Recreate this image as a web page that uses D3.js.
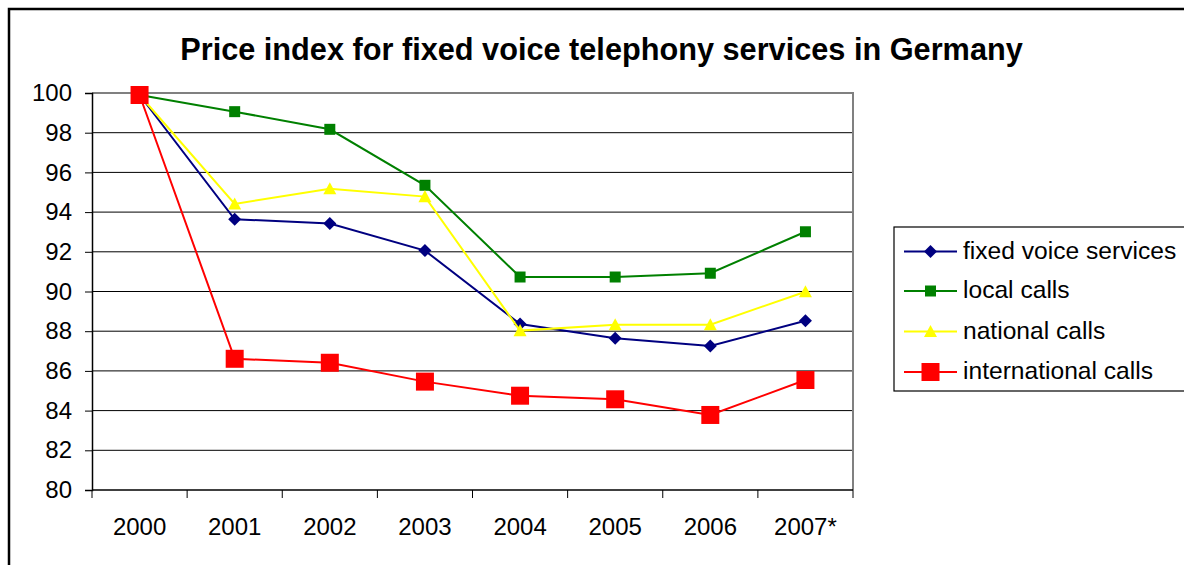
<!DOCTYPE html>
<html>
<head>
<meta charset="utf-8">
<script src="https://cdn.jsdelivr.net/npm/d3@7"></script>
<style>
  html, body { margin: 0; padding: 0; background: #fff; }
  svg { display: block; font-family: "Liberation Sans", Arial, sans-serif; }
</style>
</head>
<body>
<svg id="chart" width="1184" height="565"></svg>
<script>
const years = ["2000", "2001", "2002", "2003", "2004", "2005", "2006", "2007*"];
const fixedVoice = [99.9, 93.64, 93.43, 92.06, 88.36, 87.64, 87.25, 88.53];
const localCalls = [99.9, 99.06, 98.17, 95.35, 90.73, 90.73, 90.92, 93.01];
const nationalCalls = [99.9, 94.41, 95.18, 94.78, 88.03, 88.33, 88.33, 89.99];
const internationalCalls = [99.9, 86.61, 86.41, 85.46, 84.75, 84.57, 83.78, 85.54];
const yTicks = [80, 82, 84, 86, 88, 90, 92, 94, 96, 98, 100];
const seriesNames = ["fixed voice services", "local calls", "national calls", "international calls"];
const chartTitle = "Price index for fixed voice telephony services in Germany";

const series = [
  { name: seriesNames[0], values: fixedVoice, color: "#000080", marker: "diamond", size: 13 },
  { name: seriesNames[1], values: localCalls, color: "#008000", marker: "square", size: 11 },
  { name: seriesNames[2], values: nationalCalls, color: "#FFFF00", marker: "triangle", size: 13 },
  { name: seriesNames[3], values: internationalCalls, color: "#FF0000", marker: "square", size: 18 }
];

(function () {
const svg = d3.select("#chart");
const pLeft = 92, pRight = 853, pTop = 93, pBottom = 490;

// outer frame
svg.append("rect").attr("x", 9).attr("y", 9).attr("width", 1300).attr("height", 700)
  .attr("fill", "#fff").attr("stroke", "#000").attr("stroke-width", 2.5);

const x = d3.scaleBand().domain(years).range([pLeft, pRight]).padding(0);
const y = d3.scaleLinear().domain([80, 100]).range([pBottom, pTop]);

// title
svg.append("text").attr("x", 601.5).attr("y", 60).attr("text-anchor", "middle")
  .attr("font-weight", "bold").attr("font-size", 30.7).attr("fill", "#000").text(chartTitle);

// gridlines
svg.append("g").selectAll("line").data(yTicks.filter(d => d !== 80 && d !== 100)).join("line")
  .attr("x1", pLeft).attr("x2", pRight).attr("y1", d => y(d)).attr("y2", d => y(d))
  .attr("stroke", "#000").attr("stroke-width", 1);

// plot border top/right (gray)
svg.append("path").attr("d", `M${pLeft},${y(100)}H${pRight}V${pBottom}`)
  .attr("fill", "none").attr("stroke", "#808080").attr("stroke-width", 2);

// y axis
const yAxis = d3.axisLeft(y).tickValues(yTicks).tickSize(7).tickPadding(13).tickFormat(d3.format("d"));
const gy = svg.append("g").attr("transform", `translate(${pLeft},0)`).call(yAxis);
gy.select(".domain").attr("stroke", "#000").attr("stroke-width", 1.5);
gy.selectAll(".tick line").attr("stroke", "#000");
gy.selectAll(".tick text").attr("font-size", 24).attr("fill", "#000").attr("font-family", "Liberation Sans, Arial, sans-serif");

// x axis labels
const xAxis = d3.axisBottom(x).tickSize(0).tickPadding(28);
const gx = svg.append("g").attr("transform", `translate(0,${pBottom})`).call(xAxis);
gx.select(".domain").remove();
gx.selectAll(".tick text").attr("font-size", 24).attr("fill", "#000").attr("font-family", "Liberation Sans, Arial, sans-serif");
// x axis line and boundary ticks
svg.append("line").attr("x1", pLeft).attr("x2", pRight).attr("y1", pBottom).attr("y2", pBottom)
  .attr("stroke", "#000").attr("stroke-width", 1.5);
const boundaries = years.map(d => x(d)).concat([x(years[years.length - 1]) + x.bandwidth()]);
svg.append("g").selectAll("line").data(boundaries).join("line")
  .attr("x1", d => d).attr("x2", d => d).attr("y1", pBottom).attr("y2", pBottom + 8)
  .attr("stroke", "#000").attr("stroke-width", 1);

function markerPath(type, size) {
  const h = size / 2;
  if (type === "diamond") return `M0,${-h}L${h},0L0,${h}L${-h},0Z`;
  if (type === "square") return `M${-h},${-h}H${h}V${h}H${-h}Z`;
  if (type === "triangle") return `M0,${-h}L${h},${h * 0.85}L${-h},${h * 0.85}Z`;
}

const cx = d => x(d) + x.bandwidth() / 2;
const line = d3.line().x(d => cx(d.year)).y(d => y(d.value));

series.forEach(s => {
  const pts = years.map((yr, i) => ({ year: yr, value: s.values[i] }));
  const g = svg.append("g");
  g.append("path").datum(pts).attr("d", line).attr("fill", "none")
    .attr("stroke", s.color).attr("stroke-width", 2);
  g.selectAll("path.m").data(pts).join("path").attr("class", "m")
    .attr("d", markerPath(s.marker, s.size))
    .attr("transform", d => `translate(${cx(d.year)},${y(d.value)})`)
    .attr("fill", s.color);
});

// legend
const lg = svg.append("g");
lg.append("rect").attr("x", 894).attr("y", 227).attr("width", 400).attr("height", 164)
  .attr("fill", "#fff").attr("stroke", "#000").attr("stroke-width", 1.2);
const rowY = [251.5, 291, 331.5, 372];
series.forEach((s, i) => {
  const ry = rowY[i];
  lg.append("line").attr("x1", 904).attr("x2", 957).attr("y1", ry).attr("y2", ry)
    .attr("stroke", s.color).attr("stroke-width", 2);
  lg.append("path").attr("d", markerPath(s.marker, s.size))
    .attr("transform", `translate(930.5,${ry})`).attr("fill", s.color);
  lg.append("text").attr("x", 963).attr("y", ry + 7).attr("font-size", 24.6).attr("fill", "#000").text(s.name);
});
})();
</script>
</body>
</html>
